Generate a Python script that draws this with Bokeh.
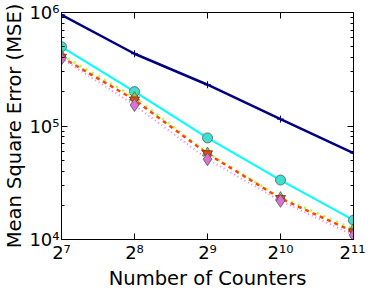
from bokeh.plotting import figure
from bokeh.models import FixedTicker, LogAxis
from bokeh.embed import file_html
from bokeh.resources import INLINE

counters = [128, 256, 512, 1024, 2048]
mse_navy = [953000, 433000, 231000, 115000, 57800]
mse_cyan = [499000, 201000, 78500, 33400, 14800]
mse_green = [421000, 179000, 58000, 23500, 12400]
mse_orange = [404000, 170000, 57000, 23000, 11700]
mse_pink = [393000, 153000, 51000, 21900, 10900]

x_ticks = [128, 256, 512, 1024, 2048]
x_labels = {128: "2\u2077", 256: "2\u2078", 512: "2\u2079", 1024: "2\u00b9\u2070", 2048: "2\u00b9\u00b9"}
y_ticks = [1e4, 1e5, 1e6]
y_labels = {10000: "10\u2074", 100000: "10\u2075", 1000000: "10\u2076"}
y_minor = [m * 10 ** e for e in (4, 5) for m in range(2, 10)]

FONT = "DejaVu Sans"
FS_LABEL = "19.5px"
FS_TICK = "18px"

p = figure(x_axis_type="log", y_axis_type="log",
           x_range=(128, 2048), y_range=(1e4, 1e6),
           output_backend="svg", toolbar_location=None,
           frame_width=292, frame_height=227,
           min_border_left=55, min_border_top=12, min_border_right=12, min_border_bottom=40)
p.grid.visible = False
p.outline_line_color = "black"
p.background_fill_color = "white"
p.border_fill_color = "white"

p.xaxis.ticker = FixedTicker(ticks=x_ticks, minor_ticks=[])
p.yaxis.ticker = FixedTicker(ticks=y_ticks, minor_ticks=y_minor)
p.xaxis.major_label_overrides = x_labels
p.yaxis.major_label_overrides = y_labels

for ax in p.xaxis + p.yaxis:
    ax.major_tick_in = 6
    ax.major_tick_out = 0
    ax.minor_tick_in = 3
    ax.minor_tick_out = 0
    ax.axis_line_color = "black"
    ax.major_tick_line_color = "black"
    ax.minor_tick_line_color = "black"
    ax.major_label_text_font = FONT
    ax.major_label_text_font_size = FS_TICK
    ax.major_label_text_color = "black"
    ax.axis_label_text_font = FONT
    ax.axis_label_text_font_size = FS_LABEL
    ax.axis_label_text_font_style = "normal"
    ax.axis_label_text_color = "black"

p.xaxis.axis_label = "Number of Counters"
p.yaxis.axis_label = "Mean Square Error (MSE)"
p.xaxis.major_label_standoff = 2
p.xaxis.axis_label_standoff = 1
p.yaxis.major_label_standoff = 2
p.yaxis.axis_label_standoff = 0

top = LogAxis(ticker=FixedTicker(ticks=x_ticks, minor_ticks=[]),
              major_label_text_font_size="1px", major_label_text_color=None,
              major_label_standoff=0,
              major_tick_in=6, major_tick_out=0,
              minor_tick_in=0, minor_tick_out=0, axis_line_color="black")
right = LogAxis(ticker=FixedTicker(ticks=y_ticks, minor_ticks=y_minor),
                major_label_text_font_size="1px", major_label_text_color=None,
                major_label_standoff=0,
                major_tick_in=6, major_tick_out=0,
                minor_tick_in=3, minor_tick_out=0, axis_line_color="black")
p.add_layout(top, "above")
p.add_layout(right, "right")

# navy with plus markers
p.line(counters, mse_navy, line_color="#000080", line_width=2.5)
p.scatter(counters, mse_navy, marker="cross", size=7, line_color="#000080", line_width=1)

# cyan with circles
p.line(counters, mse_cyan, line_color="#00FFFF", line_width=2)
p.scatter(counters, mse_cyan, marker="circle", size=10, fill_color="#40E0D0", line_color="#555555", line_width=0.8)

# green dotted with triangles
p.line(counters, mse_green, line_color="#ADFF2F", line_width=2.5, line_dash="2 5")
p.scatter(counters, mse_green, marker="triangle", size=10, fill_color="#9ACD32", line_color="#555555", line_width=0.8)

# orange dashed with inverted triangles
p.line(counters, mse_orange, line_color="#FF4500", line_width=2.5, line_dash="4 4")
p.scatter(counters, mse_orange, marker="inverted_triangle", size=10, fill_color="#FF4500", line_color="#553322", line_width=0.8)

# pink dotted with diamonds
p.line(counters, mse_pink, line_color="#EE82EE", line_width=2, line_dash="1 3")
p.scatter(counters, mse_pink, marker="diamond", size=13, fill_color="#DA70D6", line_color="#555555", line_width=0.8)

open("out.html", "w").write(file_html(p, INLINE))
